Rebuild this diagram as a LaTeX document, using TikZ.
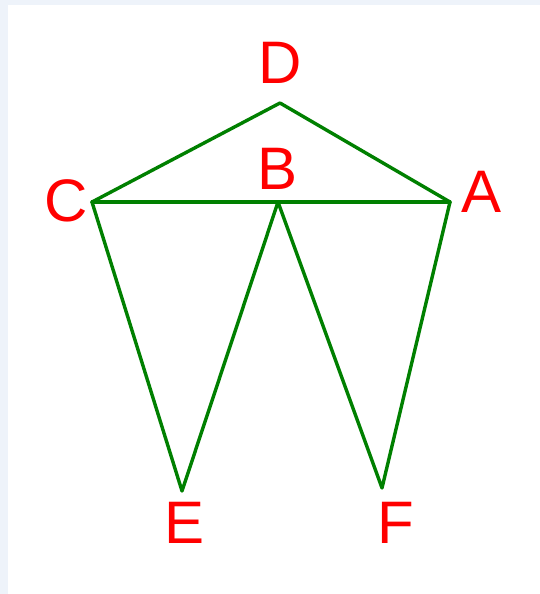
\documentclass[tikz,border=0pt]{standalone}
\usepackage{fontspec}
\setmainfont{Liberation Sans}
\usetikzlibrary{positioning}
\definecolor{edgegreen}{RGB}{0,128,0}
\definecolor{lblred}{RGB}{255,0,0}
\definecolor{framebg}{RGB}{238,243,250}
\tikzset{
  edge/.style  = {draw=edgegreen, line width=3.4pt, line join=round, line cap=round},
  vlbl/.style  = {text=lblred, inner sep=0pt, font=\fontsize{60}{72}\selectfont},
}

\begin{document}
\begin{tikzpicture}[x=1pt,y=-1pt]
  % page and frame
  \fill[framebg] (0,0) rectangle (540,594);
  \fill[white] (8,5) rectangle (540,594);
  \useasboundingbox (0,0) rectangle (540,594);
  % vertices
  \coordinate (a) at (450,202);
  \coordinate (b) at (278,202);
  \coordinate (c) at (92,202);
  \coordinate (d) at (280,103);
  \coordinate (e) at (182,491);
  \coordinate (f) at (382,488);
  % labels
  \node[vlbl] (la) at (482,192) {A};
  \node[vlbl] (lb) at (278,169) {B};
  \node[vlbl] (lc) at (66,201) {C};
  \node[vlbl] (ld) at (280,63) {D};
  \node[vlbl] (le) at (185,523) {E};
  \node[vlbl] (lf) at (396,523) {F};
  % edges
  \draw[edge] (c) -- (d) -- (a);
  \draw[edge] (c) -- (a);
  \draw[edge] (c) -- (e) -- (b) -- (f) -- (a);
\end{tikzpicture}
\end{document}
